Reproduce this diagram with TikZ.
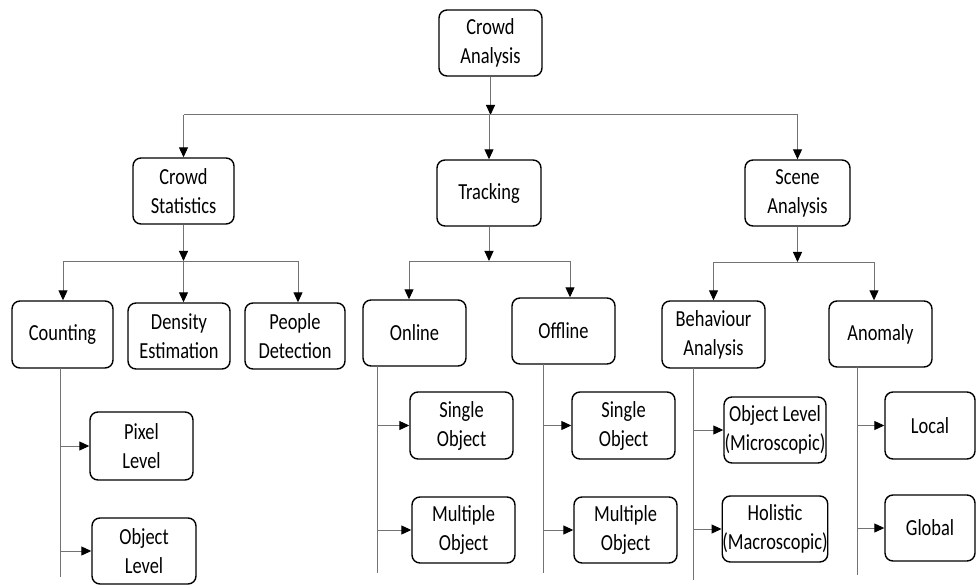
\documentclass[tikz,border=0pt]{standalone}
\usepackage{fontspec}
\setmainfont[FakeStretch=0.8]{Carlito}
\usetikzlibrary{arrows.meta}
\begin{document}
\begin{tikzpicture}[x=1pt,y=-1pt,
 box/.style={draw=black, line width=1.4pt, rounded corners=8pt, align=center, inner sep=0pt,
   font=\fontsize{23}{29}\selectfont, minimum height=66pt},
 conn/.style={draw=black!55, line width=1pt},
 arr/.style={conn, -{Triangle[length=10pt,width=9pt,color=black]}},
]
\useasboundingbox (0,0) rectangle (979,585);
% nodes
\node[box, minimum width=103pt] (ca) at (490.5,43) {Crowd\\Analysis};
\node[box, minimum width=101pt] (cs) at (183.5,191) {Crowd\\Statistics};
\node[box, minimum width=104pt] (tr) at (489,193) {Tracking};
\node[box, minimum width=105pt] (sa) at (797.5,193) {Scene\\Analysis};
\node[box, minimum width=101pt, minimum height=67pt] (cnt) at (62.5,334.5) {Counting};
\node[box, minimum width=102pt] (de) at (179,336) {Density\\Estimation};
\node[box, minimum width=100pt] (pd) at (295,336) {People\\Detection};
\node[box, minimum width=103pt, minimum height=68pt] (px) at (141.5,446) {Pixel\\Level};
\node[box, minimum width=104pt] (ol) at (144,551) {Object\\Level};
\node[box, minimum width=103pt] (on) at (414.5,333) {Online};
\node[box, minimum width=103pt] (of) at (563.5,331) {Offline};
\node[box, minimum width=103pt, minimum height=67pt] (so1) at (461.5,425.5) {Single\\Object};
\node[box, minimum width=103pt] (mo1) at (463.5,530) {Multiple\\Object};
\node[box, minimum width=103pt, minimum height=67pt] (so2) at (623.5,425.5) {Single\\Object};
\node[box, minimum width=103pt] (mo2) at (625.5,530) {Multiple\\Object};
\node[box, minimum width=103pt, minimum height=67pt] (ba) at (713.5,334.5) {Behaviour\\Analysis};
\node[box, minimum width=103pt] (an) at (880.5,334) {Anomaly};
\node[box, minimum width=102pt] (olm) at (775,430) {Object Level\\(Microscopic)};
\node[box, minimum width=102pt] (hm) at (775,529) {Holistic\\(Macroscopic)};
\node[box, minimum width=90pt, minimum height=67pt] (lo) at (930,425.5) {Local};
\node[box, minimum width=90pt] (gl) at (930,528) {Global};
% level 1
\coordinate (b1) at (490,115);
\draw[arr] (ca.south) -- (ca.south |- b1);
\draw[conn] (cs.north |- b1) -- (sa.north |- b1);
\draw[arr] (cs.north |- b1) -- (cs.north);
\draw[arr] (tr.north |- b1) -- (tr.north);
\draw[arr] (sa.north |- b1) -- (sa.north);
% crowd statistics
\coordinate (b2l) at (63,261);
\coordinate (b2r) at (298,261);
\draw[arr] (cs.south) -- (cs.south |- b2l);
\draw[conn] (b2l) -- (b2r);
\draw[arr] (b2l) -- (b2l |- cnt.north);
\draw[arr] (cs.south |- b2l) -- (cs.south |- de.north);
\draw[arr] (b2r) -- (b2r |- pd.north);
% tracking
\coordinate (b3l) at (409,261);
\coordinate (b3r) at (570,261);
\draw[arr] (tr.south) -- (tr.south |- b3l);
\draw[conn] (b3l) -- (b3r);
\draw[arr] (b3l) -- (b3l |- on.north);
\draw[arr] (b3r) -- (b3r |- of.north);
% scene analysis
\coordinate (b4l) at (713.5,262);
\coordinate (b4r) at (874,262);
\draw[arr] (sa.south) -- (sa.south |- b4l);
\draw[conn] (b4l) -- (b4r);
\draw[arr] (b4l) -- (ba.north);
\draw[arr] (b4r) -- (b4r |- an.north);
% side lines
\coordinate (cntT) at (60,368);  \coordinate (cntB) at (60,577);
\draw[conn] (cntT) -- (cntB);
\draw[arr] (cntT |- px.west) -- (px.west);
\draw[arr] (cntT |- ol.west) -- (ol.west);
\coordinate (onT) at (377,366);  \coordinate (onB) at (377,573);
\draw[conn] (onT) -- (onB);
\draw[arr] (onT |- so1.west) -- (so1.west);
\draw[arr] (onT |- mo1.west) -- (mo1.west);
\coordinate (ofT) at (543,364);  \coordinate (ofB) at (543,573);
\draw[conn] (ofT) -- (ofB);
\draw[arr] (ofT |- so2.west) -- (so2.west);
\draw[arr] (ofT |- mo2.west) -- (mo2.west);
\coordinate (baT) at (693,368);  \coordinate (baB) at (693,580);
\draw[conn] (baT) -- (baB);
\draw[arr] (baT |- olm.west) -- (olm.west);
\draw[arr] (baT |- hm.west) -- (hm.west);
\coordinate (anT) at (857,367);  \coordinate (anB) at (857,575);
\draw[conn] (anT) -- (anB);
\draw[arr] (anT |- lo.west) -- (lo.west);
\draw[arr] (anT |- gl.west) -- (gl.west);
\end{tikzpicture}
\end{document}
